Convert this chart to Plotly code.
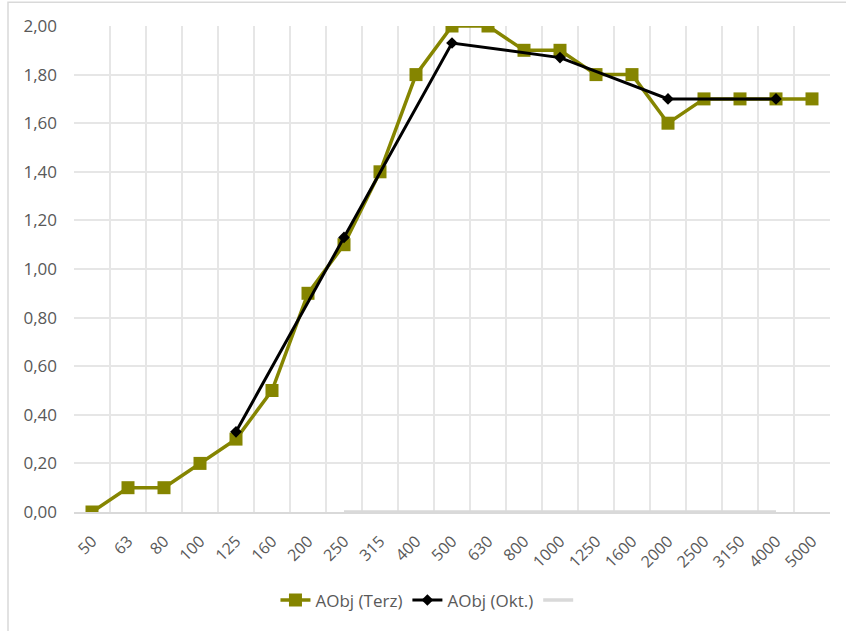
import plotly.graph_objects as go

categories = ["50", "63", "80", "100", "125", "160", "200", "250", "315", "400", "500",
              "630", "800", "1000", "1250", "1600", "2000", "2500", "3150", "4000", "5000"]
terz = [0.0, 0.1, 0.1, 0.2, 0.3, 0.5, 0.9, 1.1, 1.4, 1.8, 2.0,
        2.0, 1.9, 1.9, 1.8, 1.8, 1.6, 1.7, 1.7, 1.7, 1.7]
okt = [None, None, None, None, 0.33, None, None, 1.13, None, None, 1.93,
       None, None, 1.87, None, None, 1.70, None, None, 1.70, None]
grey = [None, None, None, None, None, None, None, 0, 0, 0, 0,
        0, 0, 0, 0, 0, 0, 0, 0, 0, None]

olive = "#858500"
fig = go.Figure()
fig.add_trace(go.Scatter(x=categories, y=grey, mode="lines", name=" ",
                         line=dict(color="#d9d9d9", width=3.5), showlegend=True,
                         legendrank=3))
fig.add_trace(go.Scatter(x=categories, y=terz, mode="lines+markers", name="AObj (Terz)",
                         line=dict(color=olive, width=3.5),
                         marker=dict(symbol="square", size=13, color=olive),
                         legendrank=1))
fig.add_trace(go.Scatter(x=categories, y=okt, mode="lines+markers", name="AObj (Okt.)",
                         connectgaps=True,
                         line=dict(color="black", width=3),
                         marker=dict(symbol="diamond", size=9, color="black"),
                         legendrank=2))

fig.update_layout(
    width=846, height=631,
    margin=dict(l=74, r=16, t=26, b=116),
    paper_bgcolor="white", plot_bgcolor="white",
    separators=",.",
    font=dict(family="Open Sans", size=16, color="#595959"),
    legend=dict(orientation="h", x=0.4735, xanchor="center", y=-0.182, yanchor="middle",
                font=dict(size=17, color="#595959"), traceorder="normal"),
    shapes=[dict(type="rect", xref="paper", yref="paper",
                 x0=-0.0873, x1=1.05, y0=-0.3, y1=1.049,
                 line=dict(color="#d9d9d9", width=1.5), fillcolor="rgba(0,0,0,0)",
                 layer="below")],
)
fig.update_xaxes(type="category", range=[-0.5, 20.5], tickson="boundaries",
                 automargin=False,
                 showgrid=True, gridcolor="#e6e6e6", gridwidth=1.5,
                 showline=True, linecolor="#d9d9d9", linewidth=1.5,
                 ticks="", tickangle=-45, ticklabelstandoff=12,
                 tickfont=dict(size=16, color="#595959"))
fig.update_yaxes(range=[0, 2.0], dtick=0.2, tickformat=".2f", automargin=False,
                 showgrid=True, gridcolor="#e6e6e6", gridwidth=1.5,
                 zeroline=False, showline=False, ticks="", ticklabelstandoff=16,
                 tickfont=dict(size=17, color="#595959"))

fig.write_html("out.html", config={"displayModeBar": False},
               post_script="document.body.style.margin='0';document.body.style.overflow='hidden';")
